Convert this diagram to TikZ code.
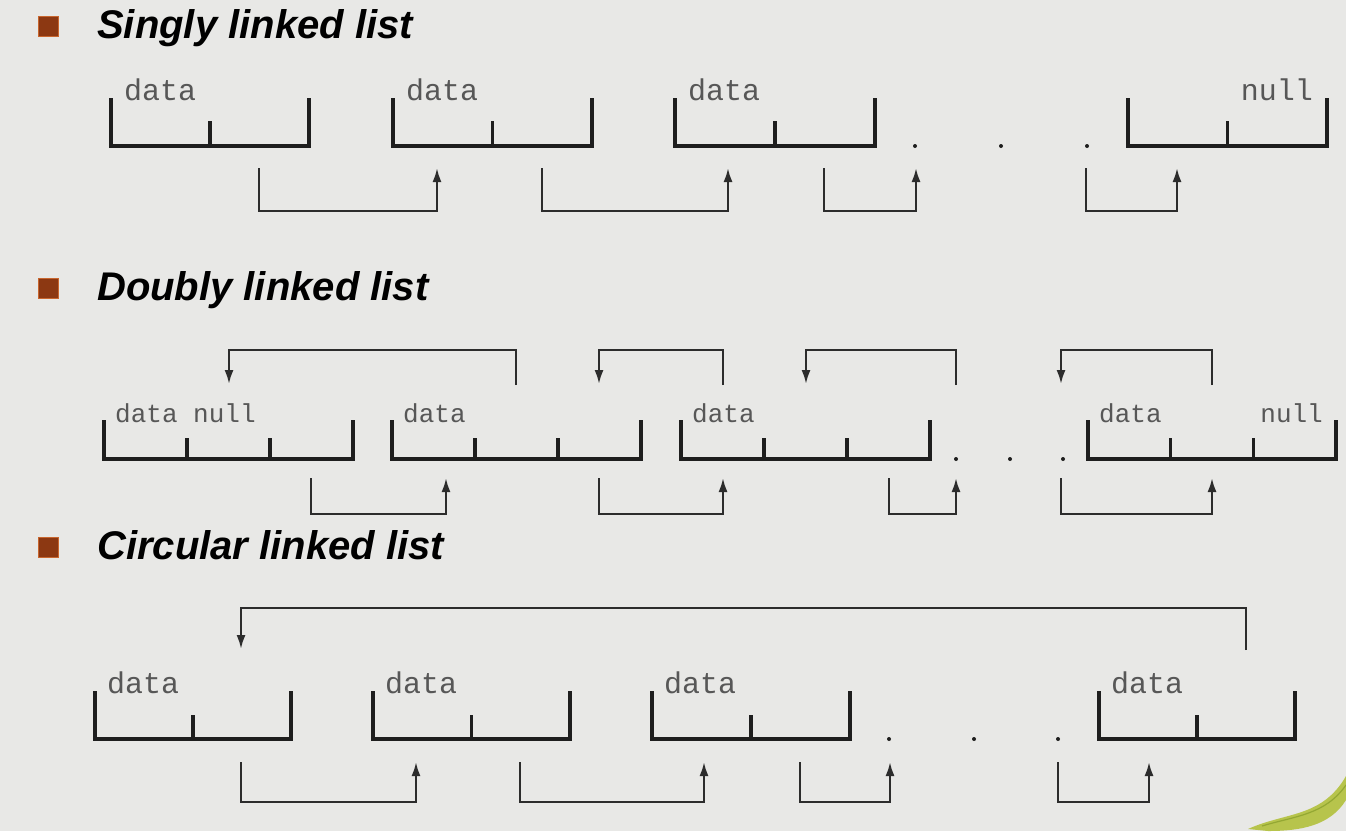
\documentclass[tikz,border=0pt]{standalone}
\usepackage{fontspec}
\setmainfont{Liberation Sans}
\newfontfamily\codefont{Liberation Mono}
\usetikzlibrary{calc,arrows.meta}
\definecolor{bgc}{HTML}{E8E8E6}
\definecolor{inkc}{HTML}{1E1E1E}
\definecolor{linkc}{HTML}{2C2C2C}
\definecolor{txtc}{HTML}{575757}
\definecolor{bulc}{HTML}{8C3812}
\definecolor{bulb}{HTML}{C8662E}
\definecolor{leafc}{HTML}{B7C44C}
\definecolor{leafd}{HTML}{94A833}
\tikzset{
  cellbox/.style={draw=none, inner sep=0pt, outer sep=0pt},
  bracket/.style={draw=inkc, line width=3.2pt, line cap=rect},
  link/.style={draw=linkc, line width=2.2pt},
  linkarrow/.style={link, -{Latex[length=14pt,width=9pt]}},
  lblbig/.style={inner sep=0pt, text=txtc, font=\codefont\fontsize{30}{30}\selectfont},
  lblsmall/.style={inner sep=0pt, text=txtc, font=\codefont\fontsize{26}{26}\selectfont},
  head/.style={inner sep=0pt, text=black, font=\fontsize{40}{40}\selectfont\bfseries\itshape},
  bulletbox/.style={draw=bulb, line width=0.8pt, fill=bulc, minimum size=20pt, inner sep=0pt},
  dotnode/.style={circle, fill=inkc, inner sep=0pt, minimum size=4pt}
}
% name, left, right, top, bottom, tick fractions, tick height
\newcommand{\boxnode}[7]{%
  \node[cellbox, minimum width={#3-#2}, minimum height={#5-#4}] (#1) at ({(#2+#3)/2},{(#4+#5)/2}) {};
  \draw[bracket] (#1.north west) |- (#1.south east) -- (#1.north east);
  \foreach \f in {#6} {\draw[bracket] ($(#1.south west)!\f!(#1.south east)$) -- ++(0,-#7);}
}
\begin{document}
\begin{tikzpicture}[x=1pt,y=-1pt]
\fill[bgc] (0,0) rectangle (1346,831);
\useasboundingbox (0,0) rectangle (1346,831);

% ---------- headings ----------
\node[bulletbox] (b1) at (48.5,26.5) {};
\node[head, anchor=base west] (h1) at (97,38) {Singly linked list};
\node[bulletbox] (b2) at (48.5,288.5) {};
\node[head, anchor=base west] (h2) at (97,300) {Doubly linked list};
\node[bulletbox] (b3) at (48.5,547.5) {};
\node[head, anchor=base west] (h3) at (97,559) {Circular linked list};

% ---------- singly linked list ----------
\boxnode{sa}{111}{309}{100}{146}{0.5}{23}
\boxnode{sb}{393}{592}{100}{146}{0.5}{23}
\boxnode{sc}{675}{875}{100}{146}{0.5}{23}
\boxnode{sd}{1128}{1327}{100}{146}{0.5}{23}
\node[lblbig, anchor=base west] (sal) at ([xshift=13pt]sa.north west) {data};
\node[lblbig, anchor=base west] (sbl) at ([xshift=13pt]sb.north west) {data};
\node[lblbig, anchor=base west] (scl) at ([xshift=13pt]sc.north west) {data};
\node[lblbig, anchor=base east] (sdl) at ([xshift=-14pt]sd.north east) {null};
\node[dotnode] (sx1) at (915,146) {};
\node[dotnode] (sx2) at (1001,146) {};
\node[dotnode] (sx3) at (1087,146) {};
\coordinate (so1) at (259,168); \coordinate (si1) at (437,168);
\coordinate (so2) at (542,168); \coordinate (si2) at (728,168);
\coordinate (so3) at (824,168); \coordinate (si3) at (916,168);
\coordinate (so4) at (1086,168); \coordinate (si4) at (1177,168);
\foreach \k in {1,2,3,4} {\draw[linkarrow] (so\k) -- ++(0,43) -| (si\k);}

% ---------- doubly linked list ----------
\boxnode{da}{104}{353}{422}{459}{0.3333,0.6667}{19}
\boxnode{db}{392}{641}{422}{459}{0.3333,0.6667}{19}
\boxnode{dc}{681}{930}{422}{459}{0.3333,0.6667}{19}
\boxnode{dd}{1088}{1336}{422}{459}{0.3333,0.6667}{19}
\node[lblsmall, anchor=base west] (dal) at ([xshift=11pt]da.north west) {data null};
\node[lblsmall, anchor=base west] (dbl) at ([xshift=11pt]db.north west) {data};
\node[lblsmall, anchor=base west] (dcl) at ([xshift=11pt]dc.north west) {data};
\node[lblsmall, anchor=base west] (ddl) at ([xshift=11pt]dd.north west) {data};
\node[lblsmall, anchor=base east] (ddn) at ([xshift=-13pt]dd.north east) {null};
\node[dotnode] (dx1) at (956,459) {};
\node[dotnode] (dx2) at (1010,459) {};
\node[dotnode] (dx3) at (1063,459) {};
% backward links (top)
\coordinate (dbo1) at (516,385); \coordinate (dbi1) at (229,384);
\coordinate (dbo2) at (723,385); \coordinate (dbi2) at (599,384);
\coordinate (dbo3) at (956,385); \coordinate (dbi3) at (806,384);
\coordinate (dbo4) at (1212,385); \coordinate (dbi4) at (1061,384);
\foreach \k in {1,2,3,4} {\draw[linkarrow] (dbo\k) -- ++(0,-35) -| (dbi\k);}
% forward links (bottom)
\coordinate (dfo1) at (311,478); \coordinate (dfi1) at (446,478);
\coordinate (dfo2) at (599,478); \coordinate (dfi2) at (723,478);
\coordinate (dfo3) at (889,478); \coordinate (dfi3) at (956,478);
\coordinate (dfo4) at (1061,478); \coordinate (dfi4) at (1212,478);
\foreach \k in {1,2,3,4} {\draw[linkarrow] (dfo\k) -- ++(0,36) -| (dfi\k);}

% ---------- circular linked list ----------
\boxnode{ca}{95}{291}{693}{739}{0.5}{22}
\boxnode{cb}{373}{570}{693}{739}{0.5}{22}
\boxnode{cc}{652}{850}{693}{739}{0.5}{22}
\boxnode{cd}{1099}{1295}{693}{739}{0.5}{22}
\node[lblbig, anchor=base west] (cal) at ([xshift=12pt]ca.north west) {data};
\node[lblbig, anchor=base west] (cbl) at ([xshift=12pt]cb.north west) {data};
\node[lblbig, anchor=base west] (ccl) at ([xshift=12pt]cc.north west) {data};
\node[lblbig, anchor=base west] (cdl) at ([xshift=12pt]cd.north west) {data};
\node[dotnode] (cx1) at (889,739) {};
\node[dotnode] (cx2) at (974,739) {};
\node[dotnode] (cx3) at (1058,739) {};
\coordinate (cro) at (1246,650); \coordinate (cri) at (241,649);
\draw[linkarrow] (cro) -- ++(0,-42) -| (cri);
\coordinate (co1) at (241,762); \coordinate (ci1) at (416,762);
\coordinate (co2) at (520,762); \coordinate (ci2) at (704,762);
\coordinate (co3) at (800,762); \coordinate (ci3) at (890,762);
\coordinate (co4) at (1058,762); \coordinate (ci4) at (1149,762);
\foreach \k in {1,2,3,4} {\draw[linkarrow] (co\k) -- ++(0,40) -| (ci\k);}

% ---------- decorative leaf (bottom right) ----------
\fill[leafc] (1248,829) .. controls (1285,812) and (1322,818) .. (1346,776)
  -- (1346,800) .. controls (1330,826) and (1300,831) .. (1268,831) -- cycle;
\draw[leafd, line width=1.2pt] (1262,826) .. controls (1295,816) and (1325,815) .. (1346,785);
\end{tikzpicture}
\end{document}
